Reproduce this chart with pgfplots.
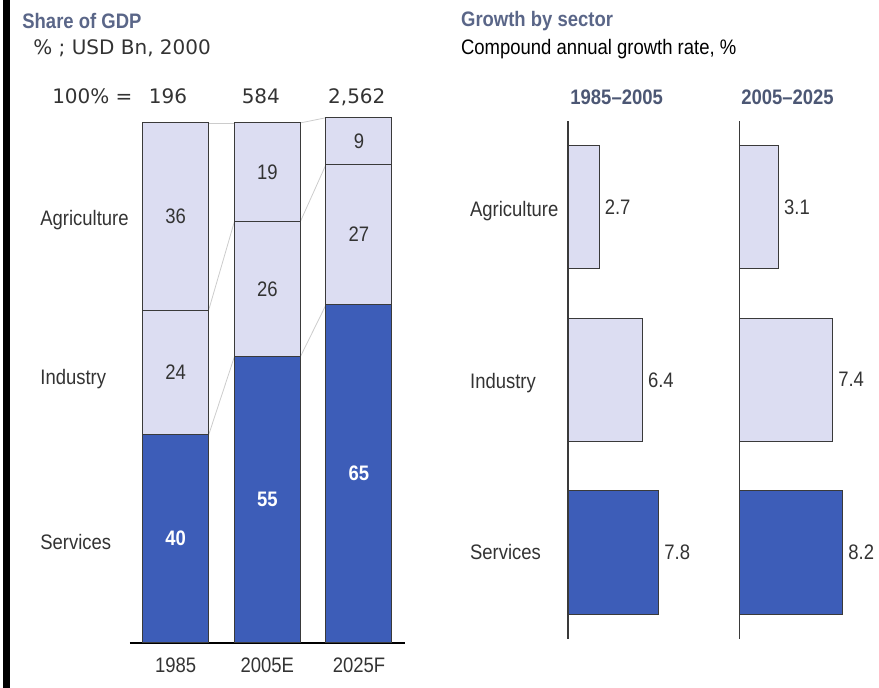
\documentclass[border=0pt]{standalone}
\usepackage{pgfplots}
\pgfplotsset{compat=1.18}
\usepackage{fontspec}
\setmainfont{Liberation Sans}[FakeStretch=0.88]
\newfontfamily\djv{DejaVu Sans}
\definecolor{lightbar}{HTML}{DCDDF2}
\definecolor{darkbar}{HTML}{3D5DB8}
\definecolor{edge}{HTML}{3A3A3A}
\definecolor{slate}{HTML}{5A6688}
\definecolor{txt}{HTML}{333333}
\newcommand{\lf}{\fontsize{10.5}{12}\selectfont}
\begin{document}
\begin{tikzpicture}
\begin{scope}[x=0.5pt,y=-0.5pt]
\useasboundingbox (0,0) rectangle (879,688);
\fill[black] (3,0) rectangle (10,688);
% ---- left titles
\node[anchor=base west, inner sep=0, text=slate, font=\bfseries\lf] at (22,29) {Share of GDP};
\node[anchor=base west, inner sep=0, text=txt, font=\djv\fontsize{10}{12}\selectfont] at (33,55) {\% ; USD Bn, 2000};
\node[anchor=base east, inner sep=0, text=txt, font=\djv\fontsize{10}{12}\selectfont] at (133,104) {100\% =};
\node[anchor=base, inner sep=0, text=txt, font=\djv\fontsize{10}{12}\selectfont] at (168,104) {196};
\node[anchor=base, inner sep=0, text=txt, font=\djv\fontsize{10}{12}\selectfont] at (261,104) {584};
\node[anchor=base, inner sep=0, text=txt, font=\djv\fontsize{10}{12}\selectfont] at (357,104) {2,562};
\node[anchor=base west, inner sep=0, text=txt, font=\lf] at (40,226) {Agriculture};
\node[anchor=base west, inner sep=0, text=txt, font=\lf] at (40,385) {Industry};
\node[anchor=base west, inner sep=0, text=txt, font=\lf] at (40,550) {Services};
% ---- right titles
\node[anchor=base west, inner sep=0, text=slate, font=\bfseries\lf] at (461,27) {Growth by sector};
\node[anchor=base west, inner sep=0, text=black, font=\lf] at (461,55) {Compound annual growth rate, \%};
\node[anchor=base, inner sep=0, text=slate!85!black, font=\bfseries\lf] at (617,105) {1985--2005};
\node[anchor=base, inner sep=0, text=slate!85!black, font=\bfseries\lf] at (788,105) {2005--2025};
\node[anchor=base west, inner sep=0, text=txt, font=\lf] at (470,217) {Agriculture};
\node[anchor=base west, inner sep=0, text=txt, font=\lf] at (470,389) {Industry};
\node[anchor=base west, inner sep=0, text=txt, font=\lf] at (470,560) {Services};
\end{scope}
% ---- left stacked chart
\begin{axis}[at={(65pt,-321.5pt)}, anchor=south west, scale only axis,
  width=137.5pt, height=260pt,
  xmin=-0.5, xmax=2.5, ymin=0, ymax=100, clip=false,
  ybar stacked, bar width=0.72,
  axis x line=bottom, axis y line=none,
  x axis line style={-, line width=1pt, black},
  xtick={0,1,2}, xticklabels={\mbox{1985},\mbox{2005E},\mbox{2025F}},
  major tick length=0pt,
  xticklabel style={font=\lf, text=txt, yshift=-4pt},
]
\addplot[fill=darkbar, draw=edge, line width=0.5pt]
  coordinates {(0,40) (1,55) (2,65)};
\addplot[fill=lightbar, draw=edge, line width=0.5pt]
  coordinates {(0,24) (1,26) (2,27)};
\addplot[fill=lightbar, draw=edge, line width=0.5pt]
  coordinates {(0,36) (1,19) (2,9)};
\draw[gray!40, line width=0.4pt] (axis cs:0.36,40) -- (axis cs:0.64,55);
\draw[gray!40, line width=0.4pt] (axis cs:1.36,55) -- (axis cs:1.64,65);
\draw[gray!40, line width=0.4pt] (axis cs:0.36,64) -- (axis cs:0.64,81);
\draw[gray!40, line width=0.4pt] (axis cs:1.36,81) -- (axis cs:1.64,92);
\draw[gray!40, line width=0.4pt] (axis cs:0.36,100) -- (axis cs:0.64,100);
\draw[gray!40, line width=0.4pt] (axis cs:1.36,100) -- (axis cs:1.64,101);
\end{axis}
% ---- labels of the stacked segments (at segment middles)
\begin{axis}[at={(65pt,-321.5pt)}, anchor=south west, scale only axis,
  width=137.5pt, height=260pt,
  xmin=-0.5, xmax=2.5, ymin=0, ymax=100, clip=false, hide axis,
  point meta=explicit symbolic,
  nodes near coords,
  every node near coord/.append style={anchor=center, font=\lf, text=txt},
]
\addplot[draw=none, mark=none, every node near coord/.append style={text=white, font=\bfseries\lf}]
  coordinates {(0,20)[40] (1,27.5)[55] (2,32.5)[65]};
\addplot[draw=none, mark=none]
  coordinates {(0,52)[24] (1,68)[26] (2,78.5)[27]};
\addplot[draw=none, mark=none]
  coordinates {(0,82)[36] (1,90.5)[19] (2,96.5)[9]};
\end{axis}
% ---- right panel 1985-2005
\begin{axis}[at={(284pt,-319.5pt)}, anchor=south west, scale only axis,
  width=55pt, height=259pt,
  xmin=0, xmax=9.4, ymin=-0.5, ymax=2.5, hide axis, clip=false,
  xbar, bar width=0.715, bar shift=0pt,
  nodes near coords, point meta=x,
  nodes near coords style={anchor=west, font=\lf, text=txt, inner sep=2.5pt},
  /pgf/number format/.cd, fixed, precision=1, assume math mode=true,
]
\addplot[fill=lightbar, draw=edge, line width=0.5pt] coordinates {(2.7,2) (6.4,1)};
\addplot[fill=darkbar, draw=edge, line width=0.5pt] coordinates {(7.8,0)};
\draw[edge, line width=0.9pt] (axis cs:0,-0.5) -- (axis cs:0,2.5);
\end{axis}
% ---- right panel 2005-2025
\begin{axis}[at={(370pt,-319.5pt)}, anchor=south west, scale only axis,
  width=55pt, height=259pt,
  xmin=0, xmax=8.73, ymin=-0.5, ymax=2.5, hide axis, clip=false,
  xbar, bar width=0.715, bar shift=0pt,
  nodes near coords, point meta=x,
  nodes near coords style={anchor=west, font=\lf, text=txt, inner sep=2.5pt},
  /pgf/number format/.cd, fixed, precision=1, assume math mode=true,
]
\addplot[fill=lightbar, draw=edge, line width=0.5pt] coordinates {(3.1,2) (7.4,1)};
\addplot[fill=darkbar, draw=edge, line width=0.5pt] coordinates {(8.2,0)};
\draw[edge, line width=0.9pt] (axis cs:0,-0.5) -- (axis cs:0,2.5);
\end{axis}
\end{tikzpicture}
\end{document}
